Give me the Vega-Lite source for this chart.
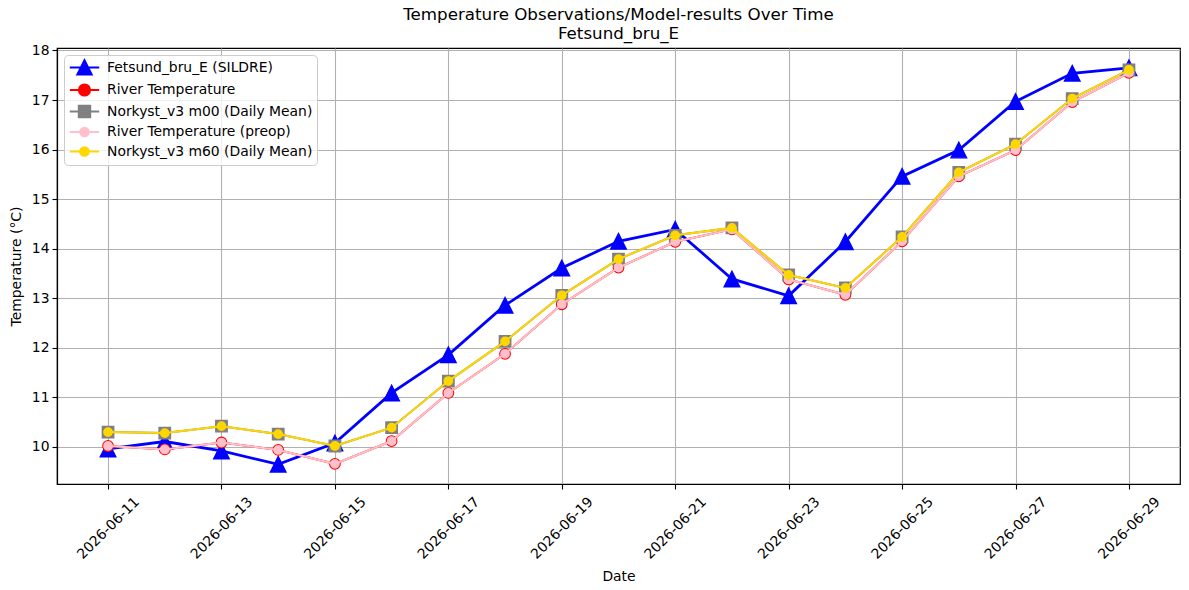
{
  "$schema": "https://vega.github.io/schema/vega-lite/v6.json",
  "width": 1123,
  "height": 436,
  "autosize": {"type": "none"},
  "padding": {"left": 57, "top": 48, "right": 9, "bottom": 106},
  "background": "white",
  "config": {
    "font": "DejaVu Sans",
    "view": {"stroke": "black", "strokeWidth": 1.2},
    "axis": {
      "labelFont": "DejaVu Sans",
      "titleFont": "DejaVu Sans",
      "labelFontSize": 13.9,
      "titleFontSize": 13.9,
      "titleFontWeight": "normal",
      "labelColor": "black",
      "titleColor": "black",
      "domainColor": "black",
      "domainWidth": 1.2,
      "tickColor": "black",
      "tickSize": 5,
      "tickWidth": 1.1,
      "gridColor": "#b0b0b0",
      "gridWidth": 1.1,
      "labelPadding": 3
    },
    "legend": {
      "orient": "top-left",
      "offset": 7,
      "padding": 4,
      "title": null,
      "fillColor": "rgba(255,255,255,0.8)",
      "strokeColor": "#cccccc",
      "cornerRadius": 4,
      "labelFont": "DejaVu Sans",
      "labelFontSize": 13.9,
      "labelColor": "black",
      "labelLimit": 0,
      "symbolSize": 196,
      "symbolStrokeWidth": 2.2,
      "symbolOpacity": 1,
      "symbolOffset": 8,
      "labelOffset": 14,
      "rowPadding": 0.5
    }
  },
  "title": {
    "text": ["Temperature Observations/Model-results Over Time", "Fetsund_bru_E"],
    "fontSize": 16.7,
    "fontWeight": "normal",
    "font": "DejaVu Sans",
    "color": "black",
    "anchor": "middle",
    "lineHeight": 19,
    "offset": 1
  },
  "data": {
    "values": [
      {"date": "2026-06-11", "series": "Fetsund_bru_E (SILDRE)", "value": 9.96},
      {"date": "2026-06-12", "series": "Fetsund_bru_E (SILDRE)", "value": 10.11},
      {"date": "2026-06-13", "series": "Fetsund_bru_E (SILDRE)", "value": 9.92},
      {"date": "2026-06-14", "series": "Fetsund_bru_E (SILDRE)", "value": 9.65},
      {"date": "2026-06-15", "series": "Fetsund_bru_E (SILDRE)", "value": 10.08},
      {"date": "2026-06-16", "series": "Fetsund_bru_E (SILDRE)", "value": 11.09},
      {"date": "2026-06-17", "series": "Fetsund_bru_E (SILDRE)", "value": 11.86},
      {"date": "2026-06-18", "series": "Fetsund_bru_E (SILDRE)", "value": 12.86},
      {"date": "2026-06-19", "series": "Fetsund_bru_E (SILDRE)", "value": 13.61},
      {"date": "2026-06-20", "series": "Fetsund_bru_E (SILDRE)", "value": 14.15},
      {"date": "2026-06-21", "series": "Fetsund_bru_E (SILDRE)", "value": 14.39},
      {"date": "2026-06-22", "series": "Fetsund_bru_E (SILDRE)", "value": 13.39},
      {"date": "2026-06-23", "series": "Fetsund_bru_E (SILDRE)", "value": 13.05},
      {"date": "2026-06-24", "series": "Fetsund_bru_E (SILDRE)", "value": 14.14},
      {"date": "2026-06-25", "series": "Fetsund_bru_E (SILDRE)", "value": 15.46},
      {"date": "2026-06-26", "series": "Fetsund_bru_E (SILDRE)", "value": 15.99},
      {"date": "2026-06-27", "series": "Fetsund_bru_E (SILDRE)", "value": 16.97},
      {"date": "2026-06-28", "series": "Fetsund_bru_E (SILDRE)", "value": 17.54},
      {"date": "2026-06-29", "series": "Fetsund_bru_E (SILDRE)", "value": 17.65},

      {"date": "2026-06-11", "series": "River Temperature", "value": 10.02},
      {"date": "2026-06-12", "series": "River Temperature", "value": 9.95},
      {"date": "2026-06-13", "series": "River Temperature", "value": 10.09},
      {"date": "2026-06-14", "series": "River Temperature", "value": 9.94},
      {"date": "2026-06-15", "series": "River Temperature", "value": 9.66},
      {"date": "2026-06-16", "series": "River Temperature", "value": 10.12},
      {"date": "2026-06-17", "series": "River Temperature", "value": 11.09},
      {"date": "2026-06-18", "series": "River Temperature", "value": 11.88},
      {"date": "2026-06-19", "series": "River Temperature", "value": 12.88},
      {"date": "2026-06-20", "series": "River Temperature", "value": 13.62},
      {"date": "2026-06-21", "series": "River Temperature", "value": 14.14},
      {"date": "2026-06-22", "series": "River Temperature", "value": 14.39},
      {"date": "2026-06-23", "series": "River Temperature", "value": 13.38},
      {"date": "2026-06-24", "series": "River Temperature", "value": 13.07},
      {"date": "2026-06-25", "series": "River Temperature", "value": 14.15},
      {"date": "2026-06-26", "series": "River Temperature", "value": 15.46},
      {"date": "2026-06-27", "series": "River Temperature", "value": 15.99},
      {"date": "2026-06-28", "series": "River Temperature", "value": 16.96},
      {"date": "2026-06-29", "series": "River Temperature", "value": 17.55},

      {"date": "2026-06-11", "series": "Norkyst_v3 m00 (Daily Mean)", "value": 10.30},
      {"date": "2026-06-12", "series": "Norkyst_v3 m00 (Daily Mean)", "value": 10.28},
      {"date": "2026-06-13", "series": "Norkyst_v3 m00 (Daily Mean)", "value": 10.42},
      {"date": "2026-06-14", "series": "Norkyst_v3 m00 (Daily Mean)", "value": 10.26},
      {"date": "2026-06-15", "series": "Norkyst_v3 m00 (Daily Mean)", "value": 10.02},
      {"date": "2026-06-16", "series": "Norkyst_v3 m00 (Daily Mean)", "value": 10.39},
      {"date": "2026-06-17", "series": "Norkyst_v3 m00 (Daily Mean)", "value": 11.33},
      {"date": "2026-06-18", "series": "Norkyst_v3 m00 (Daily Mean)", "value": 12.13},
      {"date": "2026-06-19", "series": "Norkyst_v3 m00 (Daily Mean)", "value": 13.06},
      {"date": "2026-06-20", "series": "Norkyst_v3 m00 (Daily Mean)", "value": 13.79},
      {"date": "2026-06-21", "series": "Norkyst_v3 m00 (Daily Mean)", "value": 14.27},
      {"date": "2026-06-22", "series": "Norkyst_v3 m00 (Daily Mean)", "value": 14.42},
      {"date": "2026-06-23", "series": "Norkyst_v3 m00 (Daily Mean)", "value": 13.47},
      {"date": "2026-06-24", "series": "Norkyst_v3 m00 (Daily Mean)", "value": 13.21},
      {"date": "2026-06-25", "series": "Norkyst_v3 m00 (Daily Mean)", "value": 14.24},
      {"date": "2026-06-26", "series": "Norkyst_v3 m00 (Daily Mean)", "value": 15.54},
      {"date": "2026-06-27", "series": "Norkyst_v3 m00 (Daily Mean)", "value": 16.11},
      {"date": "2026-06-28", "series": "Norkyst_v3 m00 (Daily Mean)", "value": 17.03},
      {"date": "2026-06-29", "series": "Norkyst_v3 m00 (Daily Mean)", "value": 17.61},

      {"date": "2026-06-11", "series": "River Temperature (preop)", "value": 10.02},
      {"date": "2026-06-12", "series": "River Temperature (preop)", "value": 9.95},
      {"date": "2026-06-13", "series": "River Temperature (preop)", "value": 10.09},
      {"date": "2026-06-14", "series": "River Temperature (preop)", "value": 9.94},
      {"date": "2026-06-15", "series": "River Temperature (preop)", "value": 9.66},
      {"date": "2026-06-16", "series": "River Temperature (preop)", "value": 10.12},
      {"date": "2026-06-17", "series": "River Temperature (preop)", "value": 11.09},
      {"date": "2026-06-18", "series": "River Temperature (preop)", "value": 11.88},
      {"date": "2026-06-19", "series": "River Temperature (preop)", "value": 12.88},
      {"date": "2026-06-20", "series": "River Temperature (preop)", "value": 13.62},
      {"date": "2026-06-21", "series": "River Temperature (preop)", "value": 14.14},
      {"date": "2026-06-22", "series": "River Temperature (preop)", "value": 14.39},
      {"date": "2026-06-23", "series": "River Temperature (preop)", "value": 13.38},
      {"date": "2026-06-24", "series": "River Temperature (preop)", "value": 13.07},
      {"date": "2026-06-25", "series": "River Temperature (preop)", "value": 14.15},
      {"date": "2026-06-26", "series": "River Temperature (preop)", "value": 15.46},
      {"date": "2026-06-27", "series": "River Temperature (preop)", "value": 15.99},
      {"date": "2026-06-28", "series": "River Temperature (preop)", "value": 16.96},
      {"date": "2026-06-29", "series": "River Temperature (preop)", "value": 17.55},

      {"date": "2026-06-11", "series": "Norkyst_v3 m60 (Daily Mean)", "value": 10.30},
      {"date": "2026-06-12", "series": "Norkyst_v3 m60 (Daily Mean)", "value": 10.28},
      {"date": "2026-06-13", "series": "Norkyst_v3 m60 (Daily Mean)", "value": 10.42},
      {"date": "2026-06-14", "series": "Norkyst_v3 m60 (Daily Mean)", "value": 10.26},
      {"date": "2026-06-15", "series": "Norkyst_v3 m60 (Daily Mean)", "value": 10.02},
      {"date": "2026-06-16", "series": "Norkyst_v3 m60 (Daily Mean)", "value": 10.39},
      {"date": "2026-06-17", "series": "Norkyst_v3 m60 (Daily Mean)", "value": 11.33},
      {"date": "2026-06-18", "series": "Norkyst_v3 m60 (Daily Mean)", "value": 12.13},
      {"date": "2026-06-19", "series": "Norkyst_v3 m60 (Daily Mean)", "value": 13.06},
      {"date": "2026-06-20", "series": "Norkyst_v3 m60 (Daily Mean)", "value": 13.79},
      {"date": "2026-06-21", "series": "Norkyst_v3 m60 (Daily Mean)", "value": 14.27},
      {"date": "2026-06-22", "series": "Norkyst_v3 m60 (Daily Mean)", "value": 14.42},
      {"date": "2026-06-23", "series": "Norkyst_v3 m60 (Daily Mean)", "value": 13.47},
      {"date": "2026-06-24", "series": "Norkyst_v3 m60 (Daily Mean)", "value": 13.21},
      {"date": "2026-06-25", "series": "Norkyst_v3 m60 (Daily Mean)", "value": 14.24},
      {"date": "2026-06-26", "series": "Norkyst_v3 m60 (Daily Mean)", "value": 15.54},
      {"date": "2026-06-27", "series": "Norkyst_v3 m60 (Daily Mean)", "value": 16.11},
      {"date": "2026-06-28", "series": "Norkyst_v3 m60 (Daily Mean)", "value": 17.03},
      {"date": "2026-06-29", "series": "Norkyst_v3 m60 (Daily Mean)", "value": 17.61}
    ]
  },
  "encoding": {
    "x": {
      "field": "date",
      "type": "temporal",
      "scale": {
        "type": "utc",
        "domain": [
          {"year": 2026, "month": 6, "date": 10, "hours": 2, "minutes": 24, "utc": true},
          {"year": 2026, "month": 6, "date": 29, "hours": 21, "minutes": 36, "utc": true}
        ]
      },
      "axis": {
        "title": "Date",
        "format": "%Y-%m-%d",
        "labelAngle": -45,
        "labelAlign": "center",
        "labelBaseline": "middle",
        "labelPadding": 39,
        "titlePadding": 8,
        "labelOverlap": false,
        "values": [
          {"year": 2026, "month": 6, "date": 11, "utc": true},
          {"year": 2026, "month": 6, "date": 13, "utc": true},
          {"year": 2026, "month": 6, "date": 15, "utc": true},
          {"year": 2026, "month": 6, "date": 17, "utc": true},
          {"year": 2026, "month": 6, "date": 19, "utc": true},
          {"year": 2026, "month": 6, "date": 21, "utc": true},
          {"year": 2026, "month": 6, "date": 23, "utc": true},
          {"year": 2026, "month": 6, "date": 25, "utc": true},
          {"year": 2026, "month": 6, "date": 27, "utc": true},
          {"year": 2026, "month": 6, "date": 29, "utc": true}
        ]
      }
    },
    "y": {
      "field": "value",
      "type": "quantitative",
      "scale": {"domain": [9.253, 18.05], "zero": false, "nice": false},
      "axis": {
        "title": "Temperature (°C)",
        "values": [10, 11, 12, 13, 14, 15, 16, 17, 18],
        "titlePadding": 8
      }
    }
  },
  "layer": [
    {
      "transform": [{"filter": "datum.series === 'Fetsund_bru_E (SILDRE)'"}],
      "mark": {"type": "line", "color": "#0000ff", "strokeWidth": 2.8}
    },
    {
      "transform": [{"filter": "datum.series === 'Fetsund_bru_E (SILDRE)'"}],
      "mark": {"type": "point", "shape": "M0,-1L1,1L-1,1Z", "size": 240, "filled": true, "fill": "#0000ff", "stroke": "#0000ff", "strokeWidth": 1.4, "opacity": 1}
    },
    {
      "transform": [{"filter": "datum.series === 'River Temperature'"}],
      "mark": {"type": "line", "color": "#ff0000", "strokeWidth": 2}
    },
    {
      "transform": [{"filter": "datum.series === 'River Temperature'"}],
      "mark": {"type": "point", "shape": "circle", "size": 108, "filled": true, "fill": "#ff0000", "stroke": "#ff0000", "strokeWidth": 1.4, "opacity": 1}
    },
    {
      "transform": [{"filter": "datum.series === 'Norkyst_v3 m00 (Daily Mean)'"}],
      "mark": {"type": "line", "color": "#808080", "strokeWidth": 2}
    },
    {
      "transform": [{"filter": "datum.series === 'Norkyst_v3 m00 (Daily Mean)'"}],
      "mark": {"type": "point", "shape": "square", "size": 130, "filled": true, "fill": "#808080", "stroke": "#808080", "strokeWidth": 1.4, "opacity": 1}
    },
    {
      "transform": [{"filter": "datum.series === 'River Temperature (preop)'"}],
      "mark": {"type": "line", "color": "#ffc0cb", "strokeWidth": 2}
    },
    {
      "transform": [{"filter": "datum.series === 'River Temperature (preop)'"}],
      "mark": {"type": "point", "shape": "circle", "size": 70, "filled": true, "fill": "#ffc0cb", "stroke": "#ffc0cb", "strokeWidth": 1.4, "opacity": 1}
    },
    {
      "transform": [{"filter": "datum.series === 'Norkyst_v3 m60 (Daily Mean)'"}],
      "mark": {"type": "line", "color": "#ffd700", "strokeWidth": 2}
    },
    {
      "transform": [{"filter": "datum.series === 'Norkyst_v3 m60 (Daily Mean)'"}],
      "mark": {"type": "point", "shape": "circle", "size": 70, "filled": true, "fill": "#ffd700", "stroke": "#ffd700", "strokeWidth": 1.4, "opacity": 1}
    },
    {
      "mark": {"type": "point", "opacity": 0, "filled": true},
      "encoding": {
        "fill": {
          "field": "series",
          "type": "nominal",
          "scale": {
            "domain": ["Fetsund_bru_E (SILDRE)", "River Temperature", "Norkyst_v3 m00 (Daily Mean)", "River Temperature (preop)", "Norkyst_v3 m60 (Daily Mean)"],
            "range": ["#0000ff", "#ff0000", "#808080", "#ffc0cb", "#ffd700"]
          }
        },
        "stroke": {
          "field": "series",
          "type": "nominal",
          "scale": {
            "domain": ["Fetsund_bru_E (SILDRE)", "River Temperature", "Norkyst_v3 m00 (Daily Mean)", "River Temperature (preop)", "Norkyst_v3 m60 (Daily Mean)"],
            "range": ["#0000ff", "#ff0000", "#808080", "#ffc0cb", "#ffd700"]
          }
        },
        "shape": {
          "field": "series",
          "type": "nominal",
          "scale": {
            "domain": ["Fetsund_bru_E (SILDRE)", "River Temperature", "Norkyst_v3 m00 (Daily Mean)", "River Temperature (preop)", "Norkyst_v3 m60 (Daily Mean)"],
            "range": [
              "M-2.1,0H2.1M0,-1L1,1L-1,1Z",
              "M-2.1,0H2.1M-0.78,0A0.78,0.78 0 1,0 0.78,0A0.78,0.78 0 1,0 -0.78,0Z",
              "M-2.1,0H2.1M-0.8,-0.8H0.8V0.8H-0.8Z",
              "M-2.1,0H2.1M-0.6,0A0.6,0.6 0 1,0 0.6,0A0.6,0.6 0 1,0 -0.6,0Z",
              "M-2.1,0H2.1M-0.6,0A0.6,0.6 0 1,0 0.6,0A0.6,0.6 0 1,0 -0.6,0Z"
            ]
          }
        }
      }
    }
  ]
}
